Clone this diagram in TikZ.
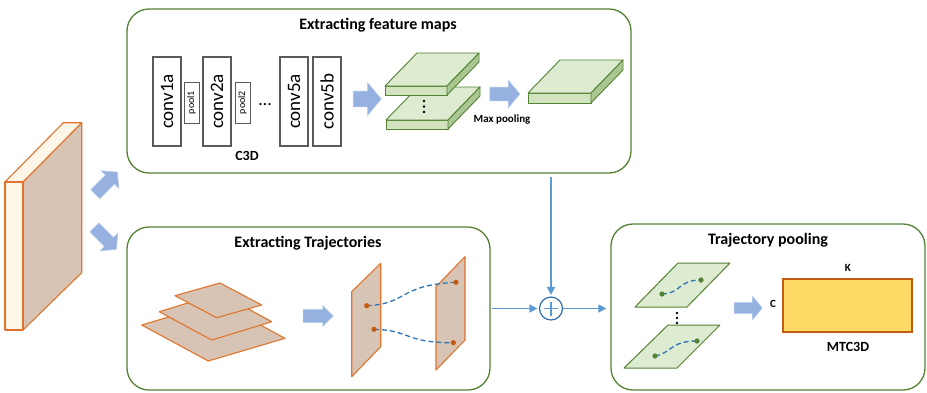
\documentclass[tikz,border=0pt]{standalone}
\usepackage{fontspec}
\setmainfont{Carlito}
\usetikzlibrary{shapes.arrows,arrows.meta}

\definecolor{framegreen}{RGB}{84,130,53}
\definecolor{flowblue}{RGB}{91,155,213}
\definecolor{sumblue}{RGB}{47,110,170}
\definecolor{arrowfill}{RGB}{150,177,224}
\definecolor{arrowedge}{RGB}{175,198,236}
\definecolor{convgray}{RGB}{90,90,90}
\definecolor{sliceorange}{RGB}{224,116,44}
\definecolor{slicetan}{RGB}{216,196,180}
\definecolor{slabcream}{RGB}{254,245,233}
\definecolor{slabtop}{RGB}{221,235,208}
\definecolor{slabfront}{RGB}{209,228,191}
\definecolor{slabside}{RGB}{170,198,145}
\definecolor{matyellow}{RGB}{255,217,102}
\definecolor{matedge}{RGB}{197,90,17}
\definecolor{trackblue}{RGB}{46,117,182}
\definecolor{dotbrown}{RGB}{197,90,17}

% a green feature slab: front-top-left corner #1, front width #2, thickness #3
\newcommand\featslab[3]{%
  \begin{scope}[shift={#1}, draw=framegreen, line width=0.9pt, line join=round]
    \filldraw[fill=slabfront] (0,0) rectangle (#2,#3);
    \filldraw[fill=slabtop] (0,0) -- (32,-33) -- (#2+32,-33) -- (#2,0) -- cycle;
    \filldraw[fill=slabside] (#2,0) -- (#2+32,-33) -- (#2+32,-33+#3) -- (#2,#3) -- cycle;
  \end{scope}}
% shaft thickness of a block arrow
\newcommand\shaft[1]{\rule{0pt}{#1}}

\tikzset{
  panel/.style={draw=framegreen, line width=1.3pt, rounded corners=22pt, fill=white},
  paneltitle/.style={font=\fontsize{16}{19}\selectfont\bfseries, inner sep=0pt},
  convbox/.style={draw=convgray, line width=1.1pt, rotate=90, minimum width=89pt,
    minimum height=28pt, inner sep=0pt, font=\fontsize{19}{22}\selectfont},
  poolbox/.style={draw=convgray, line width=0.9pt, rotate=90, minimum width=41pt,
    minimum height=15pt, inner sep=0pt, font=\fontsize{10}{12}\selectfont},
  blockarrow/.style={single arrow, draw=arrowedge, fill=arrowfill, inner sep=0pt,
    line width=0.6pt, single arrow tip angle=100},
  flow/.style={draw=flowblue, line width=1.6pt, -{Triangle[length=8pt,width=8pt]}},
  slice/.style={draw=sliceorange, line width=1.1pt, fill=slicetan, line join=round},
  track/.style={draw=trackblue, line width=1.3pt, dash pattern=on 5pt off 3pt},
  smalllabel/.style={font=\fontsize{11}{13}\selectfont\bfseries, inner sep=0pt},
  biglabel/.style={font=\fontsize{14}{17}\selectfont\bfseries, inner sep=0pt},
  vdot/.style={fill=black, circle, inner sep=0pt, minimum size=2.6pt},
}

\begin{document}
\begin{tikzpicture}[x=1pt, y=-1pt]
\useasboundingbox (0,0) rectangle (927,392);

% ---------- input clip ----------
\begin{scope}[draw=sliceorange, line width=1.1pt, line join=round]
  \filldraw[fill=slicetan] (23,182) -- (81.7,122.7) -- (81.7,272.7) -- (23,330) -- cycle;
  \filldraw[fill=slabcream] (5,182) -- (23,182) -- (81.7,122.7) -- (63.3,122.7) -- cycle;
  \filldraw[fill=slabcream] (5,182) rectangle (23,330);
\end{scope}
\node[blockarrow, rotate=45, minimum height=31pt, single arrow head extend=6pt]
  (toup) at (104.5,185) {\shaft{12pt}};
\node[blockarrow, rotate=-45, minimum height=31pt, single arrow head extend=6pt]
  (todown) at (103.5,236.5) {\shaft{12pt}};

% ---------- panels ----------
\node[panel, minimum width=504pt, minimum height=164pt] (fm) at (379,91) {};
\node[panel, minimum width=363pt, minimum height=163pt] (tr) at (308.5,308.5) {};
\node[panel, minimum width=314pt, minimum height=166pt] (tp) at (768,307) {};

\node[paneltitle] (fmtitle) at (378,25) {Extracting feature maps};
\node[paneltitle] (trtitle) at (308,243) {Extracting Trajectories};
\node[paneltitle] (tptitle) at (768,240) {Trajectory pooling};

% ---------- C3D ----------
\node[convbox] (c1) at (167,101.5) {conv1a};
\node[poolbox] (p1) at (191.5,102.5) {pool1};
\node[convbox] (c2) at (217,101.5) {conv2a};
\node[poolbox] (p2) at (242.5,102.5) {pool2};
\node[font=\fontsize{18}{20}\selectfont, inner sep=0pt] (cdots) at (265,105) {\dots};
\node[convbox] (c5a) at (294,101.5) {conv5a};
\node[convbox] (c5b) at (327,101.5) {conv5b};
\node[biglabel] (c3d) at (247,156) {C3D};

\node[blockarrow, minimum height=28pt, single arrow head extend=8.5pt]
  (a1) at (364,99) {\shaft{15pt}};

% stacked feature maps and their pooled result
\featslab{(386,120)}{62}{9}
\featslab{(385,86)}{62}{9}
\node[vdot] (vd1) at (424,101) {};
\node[vdot] (vd2) at (424,106.5) {};
\node[vdot] (vd3) at (424,112) {};
\node[smalllabel] (maxp) at (502,120) {Max pooling};

\node[blockarrow, minimum height=30pt, single arrow head extend=7pt]
  (a2) at (502,94) {\shaft{13pt}};
\featslab{(528,93)}{63}{10}

% ---------- trajectories ----------
\draw[slice] (141.7,325) -- (208.3,361) -- (285,338.3) -- (218.3,302.3) -- cycle;
\draw[slice] (159.3,311.7) -- (211.7,340) -- (271.7,321.7) -- (219.3,293.3) -- cycle;
\draw[slice] (175,295.7) -- (216.7,317.7) -- (261.7,305) -- (220,283) -- cycle;

\node[blockarrow, minimum height=30pt, single arrow head extend=4pt,
  single arrow tip angle=90] (a3) at (315,316) {\shaft{12pt}};

\draw[slice] (351.7,291.7) -- (380.7,263.3) -- (380.7,346.7) -- (351.7,376.7) -- cycle;
\draw[slice] (436,286.7) -- (465,256.7) -- (465,340) -- (436,370) -- cycle;

\coordinate (ta) at (366.7,305.7);
\coordinate (tb) at (456,282.3);
\coordinate (tc) at (374,329.3);
\coordinate (td) at (453.3,342.7);
\draw[track] (ta) .. controls (408,304) and (398,285) .. (tb);
\draw[track] (tc) .. controls (410,330) and (405,343) .. (td);
\foreach \p in {ta,tb,tc,td} \fill[dotbrown] (\p) circle (2.6pt);

% ---------- trajectory pooling ----------
\begin{scope}[draw=framegreen, line width=1pt, fill=slabtop, line join=round]
  \filldraw (678,263) -- (730,263) -- (687,307) -- (635,307) -- cycle;
  \filldraw (668,325) -- (720,325) -- (677,368) -- (624,368) -- cycle;
\end{scope}
\coordinate (pa) at (662,294);
\coordinate (pb) at (701,280);
\coordinate (pc) at (655,356);
\coordinate (pd) at (697,341);
\draw[track] (pa) .. controls (682,293) and (678,280) .. (pb);
\draw[track] (pc) .. controls (672,353) and (670,341) .. (pd);
\foreach \p in {pa,pb,pc,pd} \fill[framegreen] (\p) circle (2.6pt);
\node[vdot] (vd4) at (677,313) {};
\node[vdot] (vd5) at (677,318) {};
\node[vdot] (vd6) at (677,323) {};

\node[blockarrow, minimum height=28pt, single arrow head extend=6.5pt]
  (a4) at (746,308) {\shaft{10pt}};

\node[draw=matedge, fill=matyellow, line width=1.2pt, minimum width=129pt,
  minimum height=53pt, inner sep=0pt] (mat) at (847.5,305.5) {};
\node[smalllabel] (klab) at (848,268) {K};
\node[smalllabel] (clab) at (773,304) {C};
\node[biglabel] (mtc) at (848,347) {MTC3D};

% ---------- fusion ----------
\node[draw=sumblue, circle, line width=1.2pt, minimum size=23pt, inner sep=0pt,
  fill=white] (plus) at (551,308.5) {};
\draw[flowblue, line width=1.4pt] ([xshift=-7pt]plus.center) -- ([xshift=7pt]plus.center)
  ([yshift=-7pt]plus.center) -- ([yshift=7pt]plus.center);

\coordinate (fmout) at (551,177);
\coordinate (trout) at (492,308.5);
\draw[flow, shorten >=1.5pt] (fmout) -- (plus);
\draw[flow, shorten >=1.5pt] (trout) -- (plus);
\draw[flow, shorten >=4pt] (plus) -- (tp.west |- plus);
\end{tikzpicture}
\end{document}
